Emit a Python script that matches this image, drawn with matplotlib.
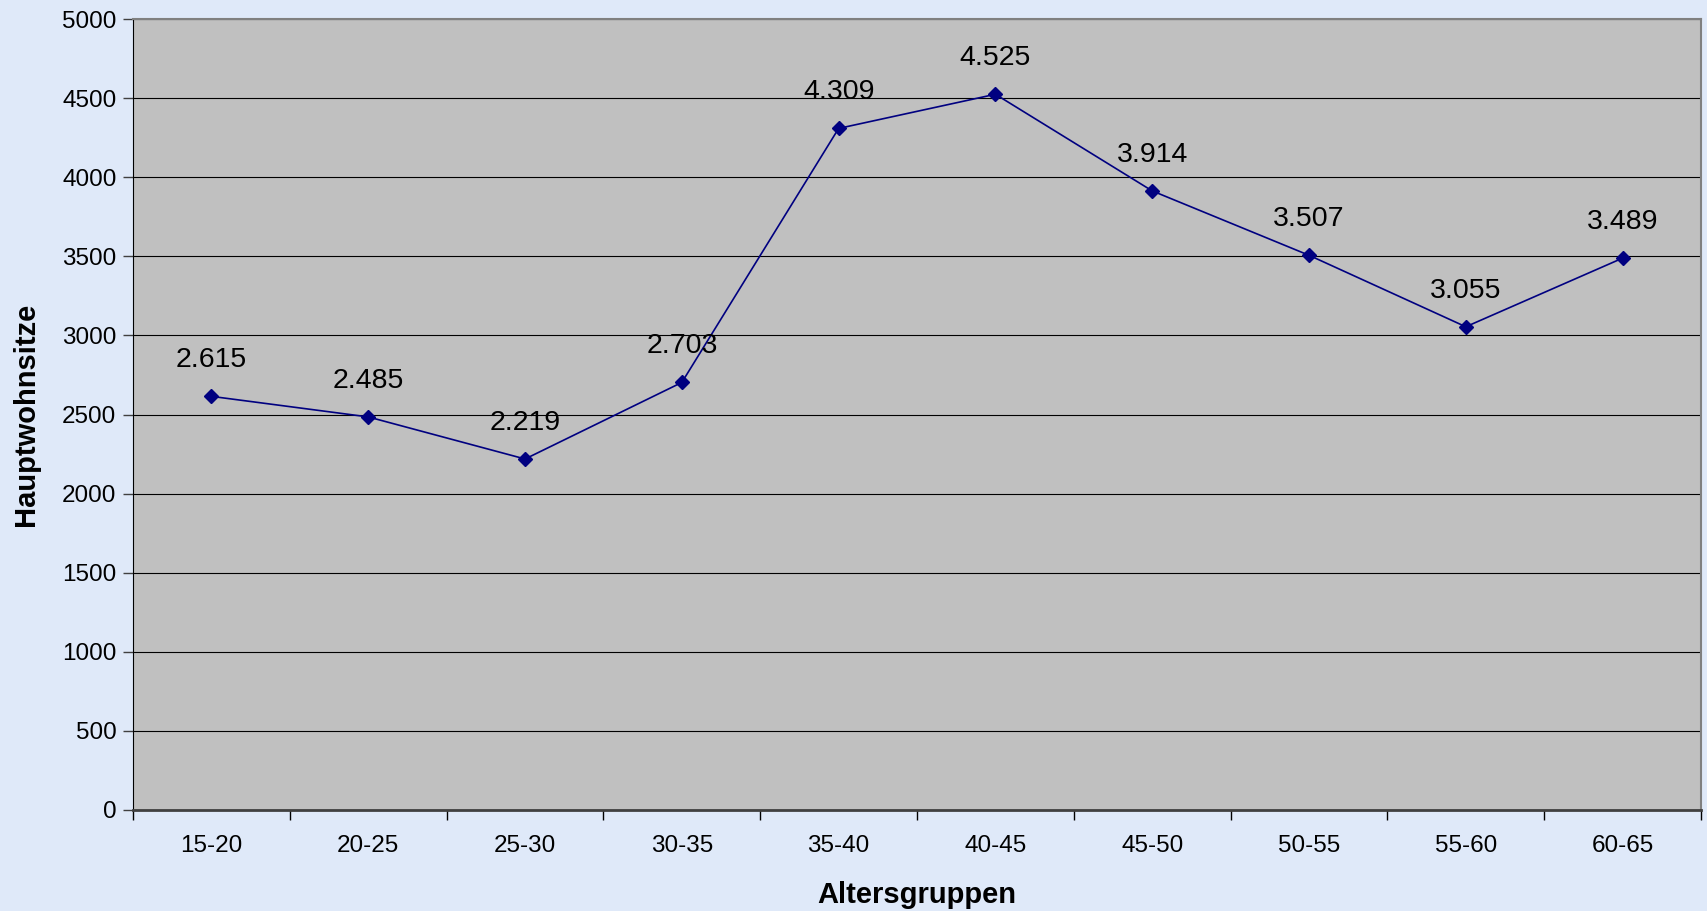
import numpy as np
import matplotlib.pyplot as plt
from matplotlib.ticker import MultipleLocator

plt.rcParams['font.family'] = ['Liberation Sans', 'DejaVu Sans']

# Daten
altersgruppen = ['15-20', '20-25', '25-30', '30-35', '35-40',
                 '40-45', '45-50', '50-55', '55-60', '60-65']
hauptwohnsitze = [2615, 2485, 2219, 2703, 4309, 4525, 3914, 3507, 3055, 3489]

fig = plt.figure(figsize=(17.08, 9.11), dpi=100, facecolor='#DFE9F9')
ax = fig.add_axes([0.0779, 0.1109, 0.9180, 0.8681])
ax.set_facecolor('#C0C0C0')

x = np.arange(len(altersgruppen))
ax.plot(x, hauptwohnsitze, color='#000080', lw=1.2, marker='D', markersize=7,
        markerfacecolor='#000080', markeredgecolor='#000080', zorder=3)

for xi, v in zip(x, hauptwohnsitze):
    label = f'{v:,}'.replace(',', '.')
    ax.annotate(label, (xi, v), xytext=(0, 26), textcoords='offset points',
                ha='center', va='center', fontsize=20.5, color='black')

ax.set_xlim(-0.5, len(altersgruppen) - 0.5)
ax.set_ylim(0, 5000)
ax.yaxis.set_major_locator(MultipleLocator(500))
ax.grid(axis='y', color='black', lw=0.8, zorder=1)
ax.set_axisbelow(True)

# Kategorien mittig, Striche an den Grenzen
ax.set_xticks(x)
ax.set_xticklabels(altersgruppen, fontsize=17.5)
ax.set_xticks(np.arange(len(altersgruppen) + 1) - 0.5, minor=True)
ax.tick_params(axis='x', which='major', length=0, pad=18)
ax.tick_params(axis='x', which='minor', length=7, width=1, color='black', direction='out')
ax.tick_params(axis='y', labelsize=17.5, length=7, width=1, color='#404040', pad=5)

for side in ['top', 'right']:
    ax.spines[side].set_color('#808080')
    ax.spines[side].set_linewidth(1.5)
ax.spines['left'].set_color('black')
ax.spines['bottom'].set_color('#404040')
ax.spines['bottom'].set_linewidth(2)

ax.set_xlabel('Altersgruppen', fontsize=21, fontweight='bold', labelpad=17)
ax.set_ylabel('Hauptwohnsitze', fontsize=21, fontweight='bold', labelpad=16)

fig.savefig('out.png', dpi=100, facecolor=fig.get_facecolor())
